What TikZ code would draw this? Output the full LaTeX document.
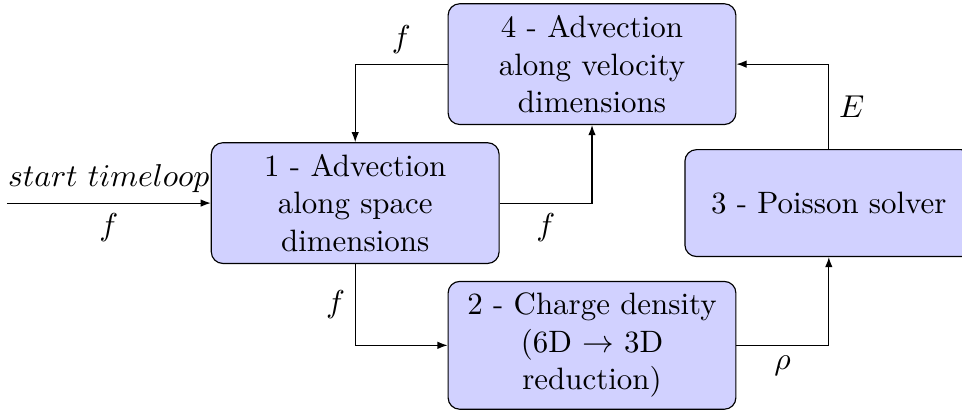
\documentclass[tikz,border=0pt]{standalone}
\usepackage{amsmath,amssymb}
\usepackage{tikz}
\usetikzlibrary{positioning,arrows.meta,shapes,calc}

\begin{document}
\begin{tikzpicture}[every node/.style={font=\fontsize{10.7}{13}\selectfont},
    stage/.style={draw,rounded corners,fill=blue!18,align=center,
        minimum width=3.5cm,minimum height=1.3cm,inner sep=4pt},
    flow/.style={-{Latex[length=3.5pt,width=2.6pt]}}]
        \useasboundingbox (0,0) rectangle (11.70,-5.0);
        \node[stage] (adv1) at (4.32,-2.47) {1 - Advection\\ along space\\ dimensions};
        \node[stage] (charge) at (7.2,-4.2) {2 - Charge density\\ (6D $\rightarrow$ 3D\\ reduction)};
        \node[stage] (poisson) at (10.08,-2.47) {3 - Poisson solver};
        \node[stage] (adv4) at (7.2,-0.78) {4 - Advection\\ along velocity\\ dimensions};
        \coordinate (start) at (0.085,-2.47);

        \draw[flow] (start) -- node[above] {$start\ timeloop$} node[below] {$f$} (adv1);
        \draw[flow] (adv1) -| node[pos=0.25,below] {$f$} (adv4);
        \draw[flow] (adv1) |- node[pos=0.25,left] {$f$} (charge);
        \draw[flow] (charge) -| node[pos=0.25,below] {$\rho$} (poisson);
        \draw[flow] (poisson) |- node[pos=0.25,right] {$E$} (adv4);
        \draw[flow] (adv4) -| node[pos=0.25,above] {$f$} (adv1);
    \end{tikzpicture}
\end{document}
